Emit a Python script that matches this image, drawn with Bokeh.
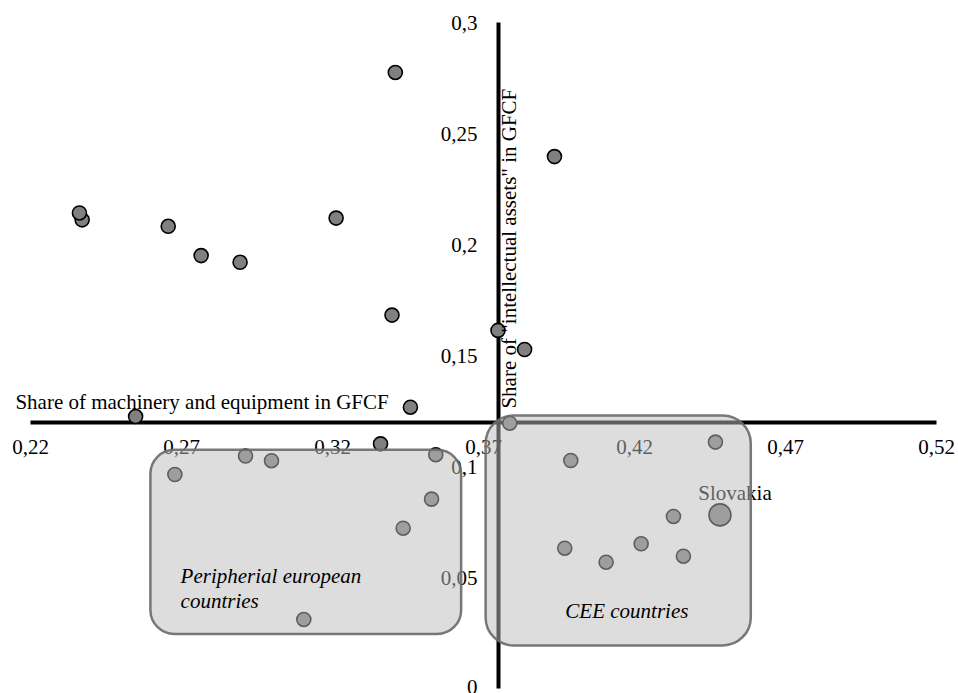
from math import pi
from bokeh.plotting import figure
from bokeh.models import (Range1d, FixedTicker, CustomJSTickFormatter, BoxAnnotation, Label)
from bokeh.core.properties import value
from bokeh.embed import file_html
from bokeh.resources import INLINE

# ---- data ----
me_share = [0.2371, 0.2362, 0.2656, 0.2765, 0.2894, 0.3212, 0.3408, 0.3397, 0.3935, 0.3748,
            0.3836, 0.3458, 0.2548, 0.3359,
            0.2678, 0.2912, 0.2998, 0.3542, 0.3528, 0.3434, 0.3105,
            0.3787, 0.3989, 0.4468, 0.4329, 0.3969, 0.4106, 0.4222, 0.4362]
ip_share = [0.2111, 0.2142, 0.2082, 0.1950, 0.1920, 0.2119, 0.2775, 0.1682, 0.2396, 0.1613,
            0.1527, 0.1267, 0.1225, 0.1102,
            0.0964, 0.1047, 0.1026, 0.1053, 0.0853, 0.0722, 0.0311,
            0.1195, 0.1027, 0.1110, 0.0775, 0.0632, 0.0569, 0.0652, 0.0596]
slovakia_me = [0.4483]
slovakia_ip = [0.0782]

x_ticks = [0.22, 0.27, 0.32, 0.37, 0.42, 0.47, 0.52]
y_ticks = [0.0, 0.05, 0.10, 0.15, 0.20, 0.25, 0.30]
x_bounds = (0.22, 0.52)
y_bounds = (0.0, 0.30)
x_cross = 0.375   # where the vertical axis crosses
y_cross = 0.12    # where the horizontal axis crosses

# group regions (data units)
peripheral_box = dict(left=0.2597, right=0.3626, bottom=0.0246, top=0.1075)
cee_box = dict(left=0.3707, right=0.4585, bottom=0.0194, top=0.1230)

FONT = "Liberation Serif"
FS = "21px"

W, H = 958, 693
# x: 0.05 per 151 px, axis from px 30 to 936 ; y: 0.3 per 666 px, axis from px 22 to 688
x_lo = 0.22 - 30 / 151 * 0.05
x_hi = 0.52 + (W - 936) / 151 * 0.05
y_hi = 0.30 + 22 / 666 * 0.30
y_lo = 0.0 - (H - 688) / 666 * 0.30

p = figure(width=W, height=H, output_backend="svg", toolbar_location=None,
           x_range=Range1d(x_lo, x_hi), y_range=Range1d(y_lo, y_hi),
           min_border_left=0, min_border_right=0, min_border_top=0, min_border_bottom=0)
p.outline_line_color = None
p.grid.visible = False
p.background_fill_color = "white"

fmt = CustomJSTickFormatter(code="return String(Math.round(tick*100)/100).replace('.', ',');")

for ax, ticks, loc, bnd in ((p.xaxis[0], x_ticks, y_cross, x_bounds),
                            (p.yaxis[0], y_ticks, x_cross, y_bounds)):
    ax.fixed_location = loc
    ax.bounds = bnd
    ax.ticker = FixedTicker(ticks=ticks, minor_ticks=[])
    ax.formatter = fmt
    ax.axis_line_color = "black"
    ax.axis_line_width = 4
    ax.major_tick_line_color = None
    ax.minor_tick_line_color = None
    ax.major_tick_out = 0
    ax.major_tick_in = 0
    ax.minor_tick_out = 0
    ax.major_label_text_font = FONT
    ax.major_label_text_font_size = FS
    ax.major_label_text_color = "black"
    ax.level = "underlay"

p.xaxis[0].major_label_standoff = 18
p.yaxis[0].major_label_standoff = 21

# points
p.scatter(me_share, ip_share, size=14, fill_color="#808080", line_color="black", line_width=1.6)
p.scatter(slovakia_me, slovakia_ip, size=22, fill_color="#808080", line_color="black", line_width=1.6)

# Slovakia label (under the shaded box)
p.text(x=[0.4411], y=[0.0882], text=["Slovakia"], text_font=value(FONT), text_font_size=FS,
       text_color="black", text_align="left", text_baseline="alphabetic")

# axis titles
p.add_layout(Label(x=0.215, y=0.1289, text="Share of machinery and equipment in GFCF",
                   text_font=FONT, text_font_size=FS, text_color="black",
                   text_align="left", text_baseline="alphabetic"))
p.add_layout(Label(x=0.3785, y=0.1261, text='Share of "intellectual assets" in GFCF', angle=pi / 2,
                   text_font=FONT, text_font_size=FS, text_color="black",
                   text_align="left", text_baseline="alphabetic"))

# shaded group boxes
for box, rad in ((peripheral_box, 24), (cee_box, 28)):
    p.add_layout(BoxAnnotation(**box, fill_color="#bcbcbc", fill_alpha=0.5,
                               line_color="#6a6a6a", line_alpha=0.9, line_width=2.5,
                               border_radius=rad))

# group labels
for txt, x, y in (("Peripherial european", 0.2697, 0.0509), ("countries", 0.2697, 0.0392),
                  ("CEE countries", 0.3971, 0.0347)):
    p.add_layout(Label(x=x, y=y, text=txt, text_font=FONT, text_font_size=FS,
                       text_font_style="italic", text_color="black",
                       text_align="left", text_baseline="alphabetic"))

open("out.html", "w").write(file_html(p, INLINE))
